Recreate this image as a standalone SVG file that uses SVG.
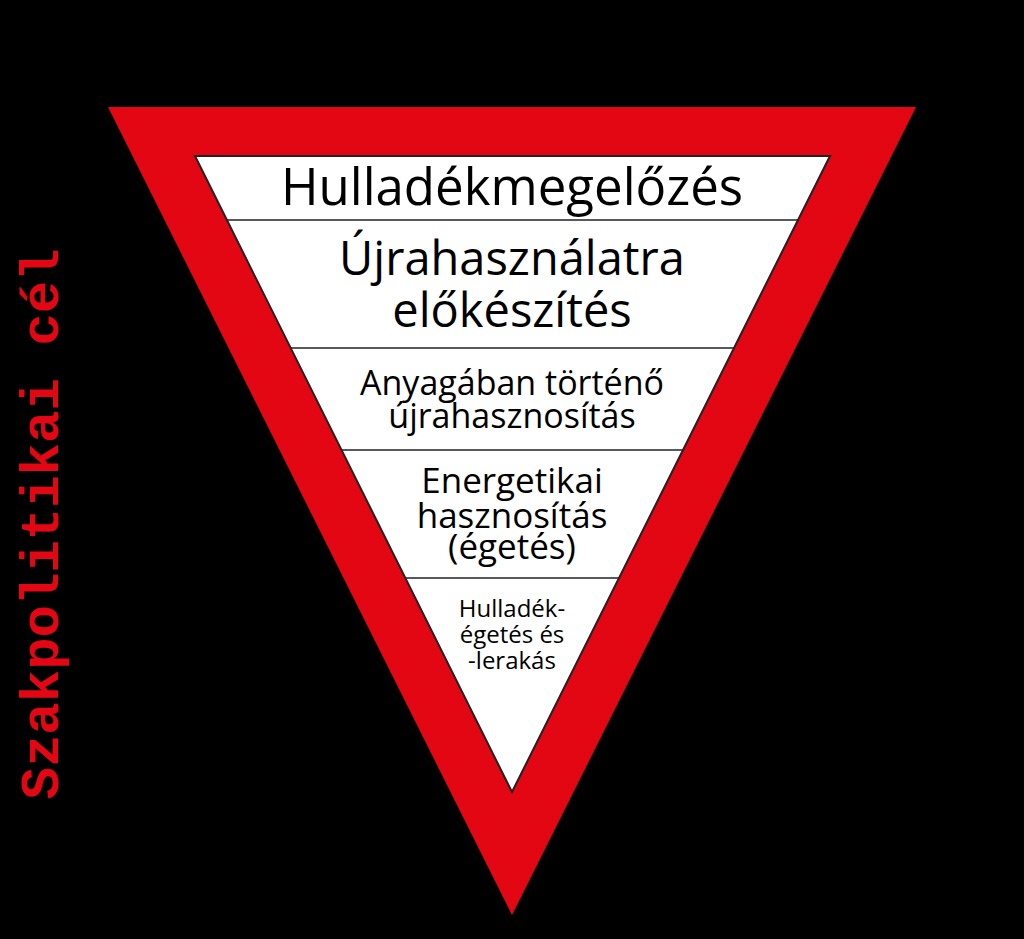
<svg xmlns="http://www.w3.org/2000/svg" width="1024" height="939" viewBox="0 0 1024 939">
<style>
.t{font-family:"Open Sans","Noto Sans","Liberation Sans",sans-serif;fill:#000;text-anchor:middle}
.div{stroke:#222;stroke-width:1.5}
</style>
<rect width="1024" height="939" fill="#000"/>
<g id="outer"><polygon points="108,107 916,107 512,915" fill="#e30613"/></g>
<g id="inner"><polygon points="195,156 830,156 512,792" fill="#fff" stroke="#222" stroke-width="2"/></g>
<g id="dividers">
<line class="div" x1="227" y1="220" x2="798" y2="220"/>
<line class="div" x1="291" y1="348" x2="734" y2="348"/>
<line class="div" x1="342" y1="450" x2="683" y2="450"/>
<line class="div" x1="406" y1="578" x2="619" y2="578"/>
</g>
<g id="level1"><text class="t" x="512" y="205" font-size="51">Hulladékmegelőzés</text></g>
<g id="level2"><text class="t" font-size="47"><tspan x="512" y="275">Újrahasználatra</tspan><tspan x="512" y="327">előkészítés</tspan></text></g>
<g id="level3"><text class="t" font-size="34"><tspan x="512" y="395">Anyagában történő</tspan><tspan x="512" y="428">újrahasznosítás</tspan></text></g>
<g id="level4"><text class="t" font-size="35"><tspan x="512" y="493">Energetikai</tspan><tspan x="512" y="528">hasznosítás</tspan><tspan x="512" y="559">(égetés)</tspan></text></g>
<g id="level5"><text class="t" font-size="24"><tspan x="512" y="617">Hulladék-</tspan><tspan x="512" y="643">égetés és</tspan><tspan x="512" y="669">-lerakás</tspan></text></g>
<g id="label"><text x="0" y="0" transform="translate(58,524) rotate(-90)" font-family="'Liberation Mono','Courier New',monospace" font-weight="bold" font-size="54" fill="#e30613" text-anchor="middle">Szakpolitikai cél</text></g>
</svg>
